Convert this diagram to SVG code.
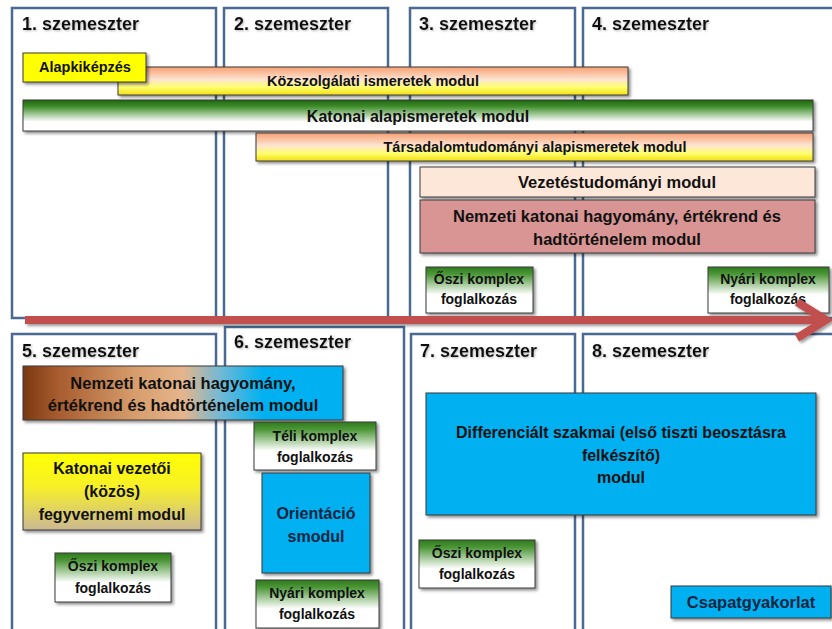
<svg xmlns="http://www.w3.org/2000/svg" width="832" height="629" viewBox="0 0 832 629">
<defs>
  <linearGradient id="gOrange" x1="0" y1="0" x2="0" y2="1">
    <stop offset="0" stop-color="#f7a072"/>
    <stop offset="0.45" stop-color="#fde4d2"/>
    <stop offset="0.72" stop-color="#ffff70"/>
    <stop offset="1" stop-color="#f3df10"/>
  </linearGradient>
  <linearGradient id="gGreen" x1="0" y1="0" x2="0" y2="1">
    <stop offset="0" stop-color="#1f6410"/>
    <stop offset="0.2" stop-color="#3c8c28"/>
    <stop offset="0.7" stop-color="#ffffff"/>
    <stop offset="1" stop-color="#ffffff"/>
  </linearGradient>
  <linearGradient id="gKomplex" x1="0" y1="0" x2="0" y2="1">
    <stop offset="0" stop-color="#2f7a1c"/>
    <stop offset="0.15" stop-color="#4b9636"/>
    <stop offset="0.6" stop-color="#ffffff"/>
    <stop offset="1" stop-color="#ffffff"/>
  </linearGradient>
  <linearGradient id="gYellowTan" x1="0" y1="0" x2="0" y2="1">
    <stop offset="0" stop-color="#ffff00"/>
    <stop offset="0.45" stop-color="#f6ef2a"/>
    <stop offset="1" stop-color="#cbb894"/>
  </linearGradient>
  <linearGradient id="gBrownBlue" x1="0" y1="0" x2="1" y2="0">
    <stop offset="0" stop-color="#7a3812"/>
    <stop offset="0.1" stop-color="#a5592c"/>
    <stop offset="0.35" stop-color="#d79d6c"/>
    <stop offset="0.5" stop-color="#e6b58c"/>
    <stop offset="0.62" stop-color="#6fb9d6"/>
    <stop offset="0.75" stop-color="#00b0f0"/>
    <stop offset="1" stop-color="#00b0f0"/>
  </linearGradient>
  <filter id="sh" x="-10%" y="-20%" width="125%" height="150%">
    <feDropShadow dx="2" dy="2" stdDeviation="1.5" flood-color="#000" flood-opacity="0.45"/>
  </filter>
  <filter id="ash" filterUnits="userSpaceOnUse" x="0" y="290" width="832" height="60">
    <feDropShadow dx="2" dy="2" stdDeviation="1.5" flood-color="#000" flood-opacity="0.4"/>
  </filter>
  <filter id="tsh" x="-5%" y="-20%" width="110%" height="150%">
    <feDropShadow dx="1" dy="1" stdDeviation="0.8" flood-color="#888" flood-opacity="0.6"/>
  </filter>
</defs>
<style>
  .sem { fill: #ffffff; stroke: #4a6a92; stroke-width: 2.5; }
  .hdr { font-family: "Liberation Sans", Arial, sans-serif; font-weight: bold; font-size: 18px; fill: #111; filter: url(#tsh); }
  .box { stroke: #3a3a3a; stroke-width: 1; filter: url(#sh); }
  .t { font-family: "Liberation Sans", Arial, sans-serif; font-weight: bold; fill: #111; text-anchor: middle; }
  .s14 { font-size: 14px; }
  .s145 { font-size: 14.5px; }
  .s16 { font-size: 16px; }
  .s165 { font-size: 16.5px; }
  .navy { fill: #0f2440; }
  .blue { fill: #00b0f0; }
  .arrow { fill: none; stroke: #c0504d; stroke-width: 8; filter: url(#ash); }
</style>
<rect width="832" height="629" fill="#ffffff"/>

<g id="semesters">
  <g id="sem1"><rect class="sem" x="12" y="8" width="204" height="310"/><text class="hdr" x="22" y="30">1. szemeszter</text></g>
  <g id="sem2"><rect class="sem" x="224" y="8" width="164" height="310"/><text class="hdr" x="234" y="30">2. szemeszter</text></g>
  <g id="sem3"><rect class="sem" x="410" y="8" width="165" height="310"/><text class="hdr" x="419" y="30">3. szemeszter</text></g>
  <g id="sem4"><rect class="sem" x="583" y="8" width="260" height="310"/><text class="hdr" x="592" y="30">4. szemeszter</text></g>
  <g id="sem5"><rect class="sem" x="12" y="334" width="204" height="310"/><text class="hdr" x="22" y="357">5. szemeszter</text></g>
  <g id="sem6"><rect class="sem" x="225" y="327" width="179" height="320"/><text class="hdr" x="234" y="348">6. szemeszter</text></g>
  <g id="sem7"><rect class="sem" x="411" y="334" width="164" height="310"/><text class="hdr" x="420" y="357">7. szemeszter</text></g>
  <g id="sem8"><rect class="sem" x="583" y="334" width="260" height="310"/><text class="hdr" x="592" y="357">8. szemeszter</text></g>
</g>

<g id="kozszolgalati"><rect class="box" x="118" y="67" width="510" height="28" fill="url(#gOrange)"/><text class="t s145" x="373" y="86">Közszolgálati ismeretek modul</text></g>
<g id="alapkikepzes"><rect class="box" x="23" y="53" width="123" height="29" fill="#ffff00"/><text class="t s145" x="85" y="72">Alapkiképzés</text></g>
<g id="katonai-alap"><rect class="box" x="23" y="100" width="790" height="31" fill="url(#gGreen)"/><text class="t s16" x="418" y="122">Katonai alapismeretek modul</text></g>
<g id="tarsadalom"><rect class="box" x="256" y="133" width="557" height="28" fill="url(#gOrange)"/><text class="t s145" x="535" y="152">Társadalomtudományi alapismeretek modul</text></g>
<g id="vezetes"><rect class="box" x="420" y="167" width="395" height="30" fill="#fde7d8"/><text class="t s165" x="617" y="188">Vezetéstudományi modul</text></g>
<g id="nemzeti-34"><rect class="box" x="420" y="200" width="395" height="53" fill="#d99594"/><text class="t s165" x="617" y="222">Nemzeti katonai hagyomány, értékrend és</text><text class="t s165" x="617" y="245">hadtörténelem modul</text></g>
<g id="oszi-3"><rect class="box" x="426" y="267" width="107" height="46" fill="url(#gKomplex)"/><text class="t s14" x="479" y="284">Őszi komplex</text><text class="t s14" x="479" y="304">foglalkozás</text></g>
<g id="nyari-4"><rect class="box" x="708" y="267" width="121" height="46" fill="url(#gKomplex)"/><text class="t s14" x="768" y="284">Nyári komplex</text><text class="t s14" x="768" y="304">foglalkozás</text></g>

<g id="connectors">
  <path class="arrow" d="M25 320 H825 M797 302 L826 320 L797 338"/>
</g>

<g id="nemzeti-56"><rect class="box" x="23" y="366" width="320" height="54" fill="url(#gBrownBlue)"/><text class="t s165" x="183" y="389">Nemzeti katonai hagyomány,</text><text class="t s165" x="183" y="411">értékrend és hadtörténelem modul</text></g>
<g id="teli-6"><rect class="box" x="254" y="422" width="122" height="48" fill="url(#gKomplex)"/><text class="t s14" x="315" y="441">Téli komplex</text><text class="t s14" x="315" y="462">foglalkozás</text></g>
<g id="katonai-vezetoi"><rect class="box" x="23" y="453" width="178" height="77" fill="url(#gYellowTan)"/><text class="t s16" x="112" y="474">Katonai  vezetői</text><text class="t s16" x="112" y="497">(közös)</text><text class="t s16" x="112" y="520">fegyvernemi modul</text></g>
<g id="orientacio"><rect class="box blue" x="262" y="473" width="108" height="100"/><text class="t s16 navy" x="316" y="519">Orientáció</text><text class="t s16 navy" x="316" y="542">smodul</text></g>
<g id="oszi-5"><rect class="box" x="55" y="553" width="116" height="49" fill="url(#gKomplex)"/><text class="t s14" x="113" y="571">Őszi komplex</text><text class="t s14" x="113" y="593">foglalkozás</text></g>
<g id="nyari-6"><rect class="box" x="256" y="580" width="123" height="48" fill="url(#gKomplex)"/><text class="t s14" x="317" y="598">Nyári komplex</text><text class="t s14" x="317" y="619">foglalkozás</text></g>
<g id="differencialt"><rect class="box blue" x="426" y="393" width="390" height="122"/><text class="t s16" x="621" y="438">Differenciált szakmai (első tiszti beosztásra</text><text class="t s16" x="621" y="461">felkészítő)</text><text class="t s16" x="621" y="483">modul</text></g>
<g id="oszi-7"><rect class="box" x="419" y="540" width="116" height="48" fill="url(#gKomplex)"/><text class="t s14" x="477" y="558">Őszi komplex</text><text class="t s14" x="477" y="579">foglalkozás</text></g>
<g id="csapatgyakorlat"><rect class="box blue" x="671" y="586" width="160" height="32"/><text class="t s165 navy" x="751" y="608">Csapatgyakorlat</text></g>
</svg>
